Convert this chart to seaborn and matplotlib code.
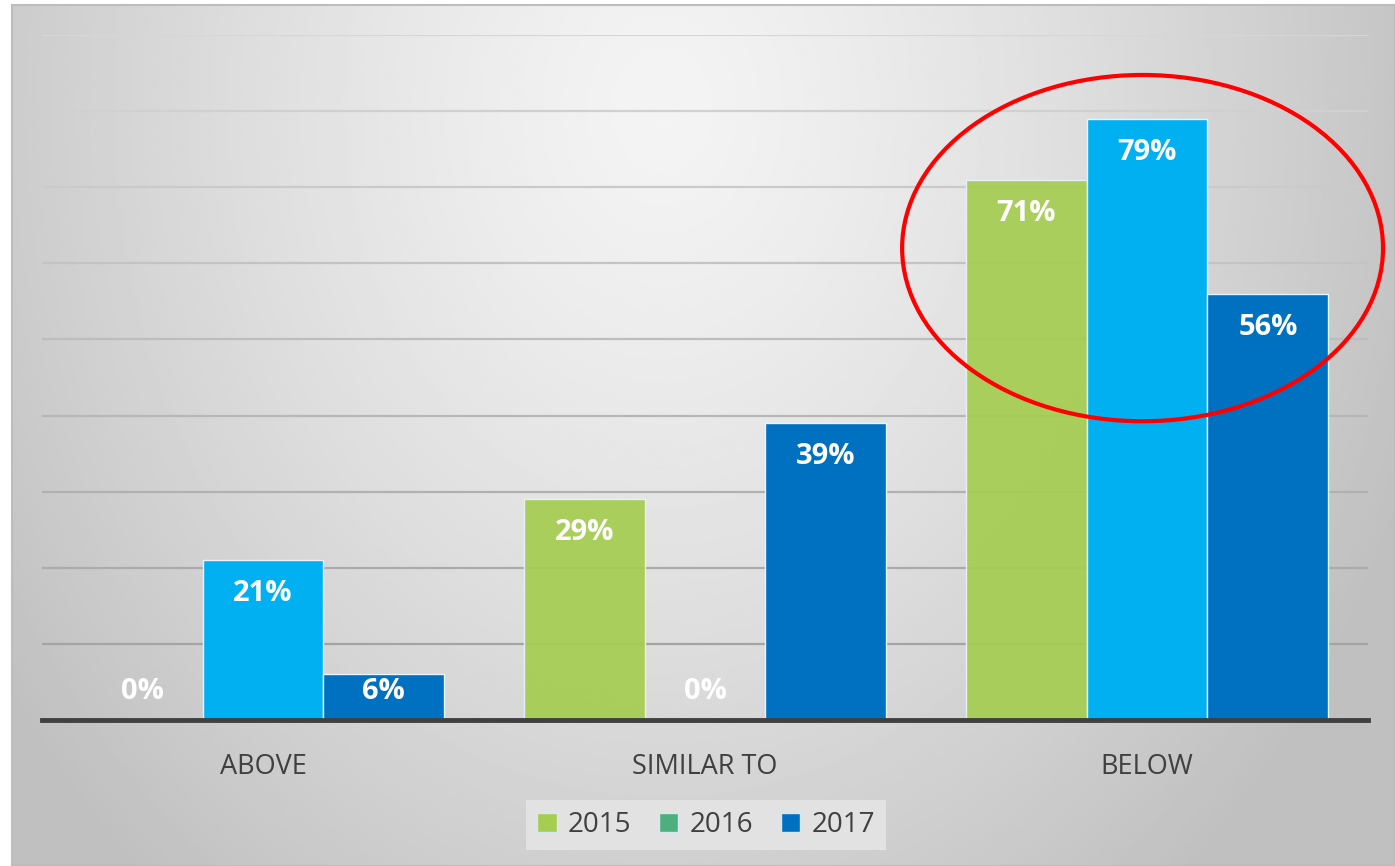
import numpy as np
import pandas as pd
import matplotlib
matplotlib.use("Agg")
import matplotlib.pyplot as plt
import seaborn as sns
from matplotlib.patches import Ellipse, Patch

categories = ["ABOVE", "SIMILAR TO", "BELOW"]
years = ["2015", "2016", "2017"]
v2015 = [0, 29, 71]
v2016 = [21, 0, 79]
v2017 = [6, 39, 56]

df = pd.DataFrame({
    "category": categories * 3,
    "year": [y for y in years for _ in categories],
    "value": v2015 + v2016 + v2017,
})

bar_colors = {"2015": "#a5cd50", "2016": "#00b0f0", "2017": "#0070c0"}
legend_colors = {"2015": "#a5cd50", "2016": "#4caf7d", "2017": "#0070c0"}

sns.set_style("white")
plt.rcParams["font.family"] = ["Open Sans", "DejaVu Sans"]

W, H = 1395, 866
fig = plt.figure(figsize=(W / 100, H / 100), dpi=100)
fig.patch.set_facecolor("white")

# gradient panel behind the chart
bg = fig.add_axes([12 / W, 0, 1 - 12 / W, 1 - 5 / H], zorder=0)
gx, gy = np.meshgrid(np.linspace(0, 1, 400), np.linspace(0, 1, 300))
r = np.sqrt(((gx - 0.47) / 0.52) ** 2 + ((gy - 0.12) / 1.05) ** 2)
shade = np.clip(0.955 - 0.175 * r ** 1.3, 0.75, 1)
bg.imshow(shade, cmap="gray", vmin=0, vmax=1, aspect="auto", extent=[0, 1, 1, 0])
bg.set_xticks([])
bg.set_yticks([])
for s in bg.spines.values():
    s.set_color("#bdbdbd")
    s.set_linewidth(1.5)

ax = fig.add_axes([42 / W, 1 - 720 / H, (1368 - 42) / W, (720 - 35) / H], zorder=1)
ax.patch.set_alpha(0)

sns.barplot(data=df, x="category", y="value", hue="year", hue_order=years,
            palette=bar_colors, width=0.82, saturation=1, legend=False,
            edgecolor="#e8f4fb", linewidth=1.0, ax=ax, zorder=3)
for p in ax.containers[0]:
    p.set_alpha(0.92)

ax.set_xlim(-0.5, 2.5)
ax.set_ylim(0, 90)

# gridlines, lighter toward the top
for lvl in range(10, 91, 10):
    c = 0.62 + 0.22 * (lvl / 90)
    ax.axhline(lvl, color=(c, c, c), lw=1.6, zorder=1)

for s in ["top", "right", "left"]:
    ax.spines[s].set_visible(False)
ax.spines["bottom"].set_color("#404040")
ax.spines["bottom"].set_linewidth(3.5)
ax.spines["bottom"].set_zorder(5)

ax.set_yticks([])
ax.set_xlabel("")
ax.set_ylabel("")
ax.tick_params(axis="x", length=0, pad=24, labelsize=19.5, labelcolor="#404040")

for cont in ax.containers:
    for bar in cont:
        h = bar.get_height()
        ax.text(bar.get_x() + bar.get_width() / 2, max(h - 4.4, 3.7), f"{h:.0f}%",
                ha="center", va="center", color="white", fontsize=21,
                fontweight="bold", zorder=6)

ell = Ellipse((1.99, 62.0), 1.088, 45.5, fill=False, edgecolor="#ff0000",
              lw=3, zorder=7, clip_on=False)
ax.add_patch(ell)

handles = [Patch(facecolor=legend_colors[y], edgecolor="#d8e8f0", label=y) for y in years]
leg = fig.legend(handles=handles, loc="upper center", bbox_to_anchor=(706 / W, 1 - 800 / H),
                 ncol=3, frameon=True, fancybox=False, fontsize=20,
                 handlelength=0.7, handleheight=0.7, handletextpad=0.4,
                 columnspacing=1.0, borderpad=0.4, borderaxespad=0,
                 labelcolor="#404040")
leg.get_frame().set_facecolor("#e2e2e2")
leg.get_frame().set_edgecolor("none")
leg.get_frame().set_alpha(1)

fig.savefig("out.png", dpi=100)
